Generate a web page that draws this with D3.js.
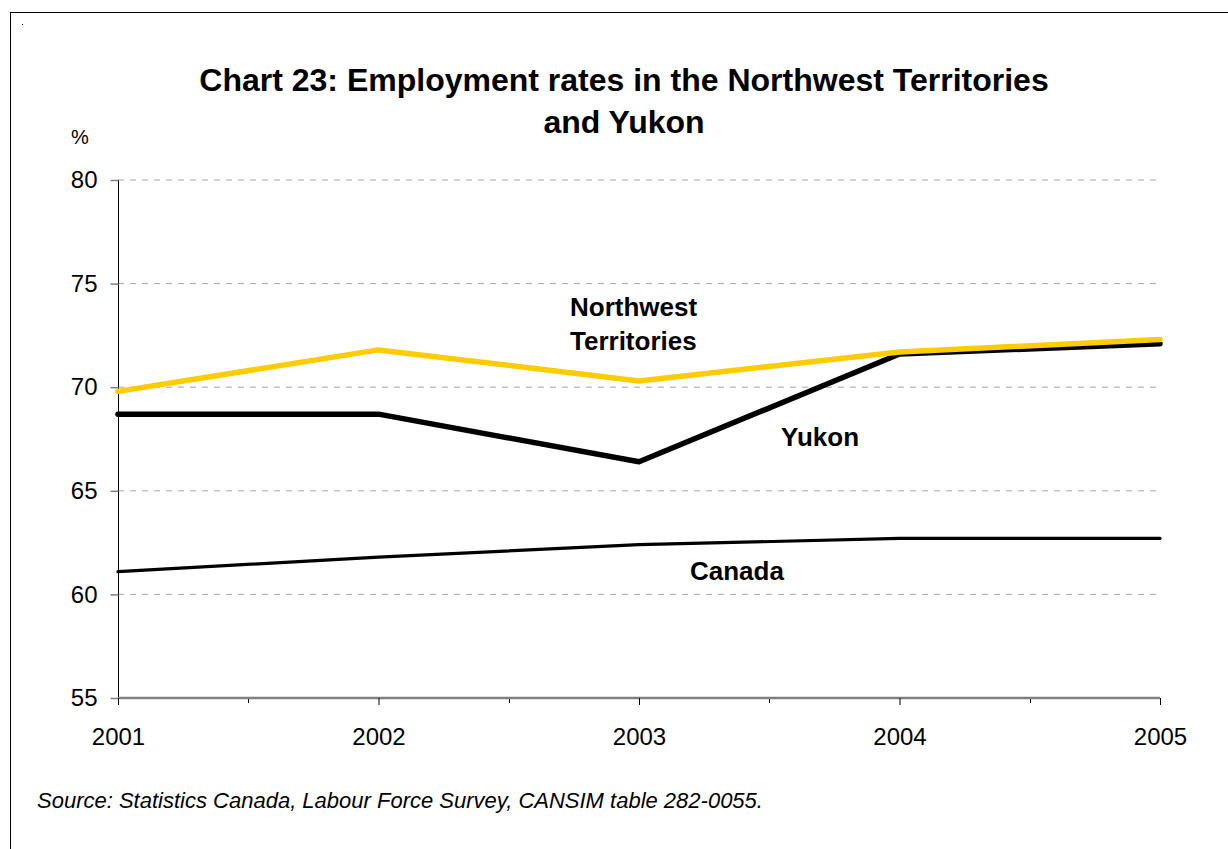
<!DOCTYPE html>
<html>
<head>
<meta charset="utf-8">
<script src="https://cdn.jsdelivr.net/npm/d3@7"></script>
<style>
  html, body { margin: 0; padding: 0; background: #fff; }
  svg { display: block; font-family: "Liberation Sans", Arial, sans-serif; }
</style>
</head>
<body>
<svg id="chart" width="1228" height="849"></svg>
<script>
// Employment rates (%), annual
const years = [2001, 2002, 2003, 2004, 2005];
const nwt = [69.8, 71.8, 70.3, 71.7, 72.3];
const yukon = [68.7, 68.7, 66.4, 71.6, 72.1];
const canada = [61.1, 61.8, 62.4, 62.7, 62.7];
const yTicks = [55, 60, 65, 70, 75, 80];
const titleLines = ["Chart 23: Employment rates in the Northwest Territories", "and Yukon"];
const sourceNote = "Source: Statistics Canada, Labour Force Survey, CANSIM table 282-0055.";

const svg = d3.select("#chart");

// outer frame
svg.append("rect")
  .attr("x", 10.5).attr("y", 12.5)
  .attr("width", 1240).attr("height", 900)
  .attr("fill", "none").attr("stroke", "#000").attr("stroke-width", 1);
svg.append("rect").attr("x", 22).attr("y", 24).attr("width", 1).attr("height", 1).attr("fill", "#000");

const plot = { left: 118, right: 1160, top: 180, bottom: 698 };

const x = d3.scaleLinear().domain([2001, 2005]).range([plot.left, plot.right]);
const y = d3.scaleLinear().domain([55, 80]).range([plot.bottom, plot.top]);

// title
svg.append("text")
  .attr("x", 624).attr("y", 91)
  .attr("text-anchor", "middle")
  .attr("font-size", 32).attr("font-weight", "bold")
  .selectAll("tspan").data(titleLines).join("tspan")
  .attr("x", 624).attr("dy", (d, i) => i === 0 ? 0 : 42)
  .text(d => d);

svg.append("text").attr("x", 71).attr("y", 144)
  .attr("font-size", 20).text("%");

// gridlines
svg.append("g").selectAll("line")
  .data(yTicks.filter(t => t > 55)).join("line")
  .attr("x1", plot.left).attr("x2", plot.right)
  .attr("y1", d => y(d)).attr("y2", d => y(d))
  .attr("stroke", "#a6a6a6").attr("stroke-width", 1)
  .attr("stroke-dasharray", "6,6");

// y axis
const yAxis = svg.append("g")
  .attr("transform", `translate(${plot.left + 0.5},0)`)
  .call(d3.axisLeft(y).tickValues(yTicks).tickSize(8).tickPadding(13).tickFormat(d3.format("d")));
yAxis.select(".domain").attr("stroke", "#000").attr("d", `M0,${plot.top}V${plot.bottom + 7}`);
yAxis.selectAll(".tick line").attr("stroke", "#808080").attr("stroke-width", 1.5);
yAxis.selectAll("text").attr("font-size", 24).attr("fill", "#000")
  .attr("font-family", "Liberation Sans, Arial, sans-serif");

// x axis: year ticks plus half-year minor ticks
const minor = d3.range(2001.5, 2005, 1);
svg.append("g").selectAll("line").data(minor).join("line")
  .attr("x1", d => Math.round(x(d)) + 0.5).attr("x2", d => Math.round(x(d)) + 0.5)
  .attr("y1", plot.bottom).attr("y2", plot.bottom + 5)
  .attr("stroke", "#000").attr("stroke-width", 1);

const xAxis = svg.append("g")
  .attr("transform", `translate(0,${plot.bottom})`)
  .call(d3.axisBottom(x).tickValues(years).tickSize(7).tickPadding(0).tickFormat(d3.format("d")));
xAxis.select(".domain").attr("stroke", "#808080").attr("stroke-width", 2.5)
  .attr("d", `M${plot.left},0H${plot.right}`);
xAxis.selectAll(".tick line").attr("stroke", "#000");
xAxis.selectAll("text").attr("font-size", 24).attr("fill", "#000")
  .attr("font-family", "Liberation Sans, Arial, sans-serif")
  .attr("dy", null).attr("y", 47);

// series lines
const line = d3.line().x((d, i) => x(years[i])).y(d => y(d));
const series = [
  { values: canada, color: "#000", width: 3.2 },
  { values: yukon, color: "#000", width: 5.5 },
  { values: nwt, color: "#FFCC00", width: 5.5 }
];
svg.append("g").selectAll("path").data(series).join("path")
  .attr("d", d => line(d.values))
  .attr("fill", "none")
  .attr("stroke", d => d.color)
  .attr("stroke-width", d => d.width)
  .attr("stroke-linejoin", "round")
  .attr("stroke-linecap", "round");

// series labels
const labels = [
  { lines: ["Northwest", "Territories"], x: 570, y: 316 },
  { lines: ["Yukon"], x: 781, y: 446 },
  { lines: ["Canada"], x: 690, y: 580 }
];
labels.forEach(l => {
  svg.append("text")
    .attr("x", l.x).attr("y", l.y)
    .attr("font-size", 26).attr("font-weight", "bold")
    .selectAll("tspan").data(l.lines).join("tspan")
    .attr("x", l.x).attr("dy", (d, i) => i === 0 ? 0 : 34)
    .text(d => d);
});

// source note
svg.append("text").attr("x", 37).attr("y", 808)
  .attr("font-size", 22).attr("font-style", "italic")
  .text(sourceNote);
</script>
</body>
</html>
